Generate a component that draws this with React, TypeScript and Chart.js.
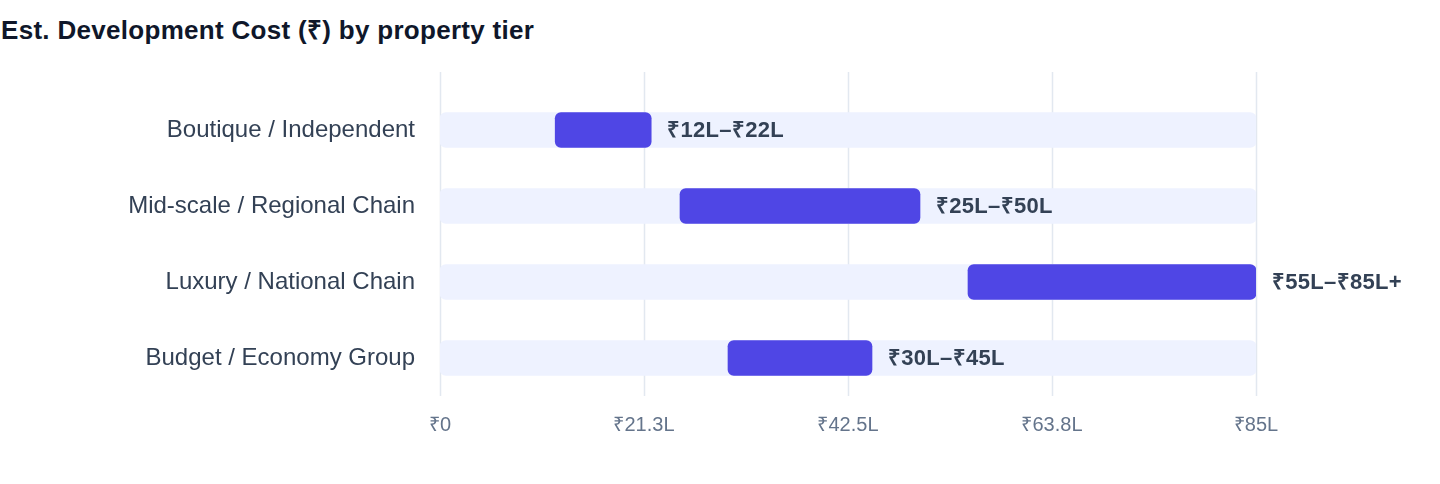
import React, { useEffect, useRef } from 'react';
import Chart from 'chart.js/auto';

const tiers = [
    'Boutique / Independent',
    'Mid-scale / Regional Chain',
    'Luxury / National Chain',
    'Budget / Economy Group',
];
const lowValues = [12, 25, 55, 30];
const highValues = [22, 50, 85, 45];
const rangeLabels = ['₹12L–₹22L', '₹25L–₹50L', '₹55L–₹85L+', '₹30L–₹45L'];
const axisMax = 85;
const tickValues = [0, 21.25, 42.5, 63.75, 85];
const tickLabels = ['₹0', '₹21.3L', '₹42.5L', '₹63.8L', '₹85L'];

const FONT = '"Liberation Sans", Arial, sans-serif';

const App: React.FC = () => {
    const canvasRef = useRef<HTMLCanvasElement>(null);
    const chartRef = useRef<Chart>();

    useEffect(() => {
        document.body.style.margin = '0';
        if (!canvasRef.current) return;

        // grid lines that reach a bit above the plot area
        const gridPlugin = {
            id: 'tallGrid',
            beforeDatasetsDraw: (chart: any) => {
                const { ctx, chartArea, scales } = chart;
                ctx.save();
                ctx.strokeStyle = '#E2E8F0';
                ctx.lineWidth = 1.5;
                tickValues.forEach(v => {
                    const x = Math.round(scales.x.getPixelForValue(v)) + 0.5;
                    ctx.beginPath();
                    ctx.moveTo(x, chartArea.top - 20);
                    ctx.lineTo(x, chartArea.bottom);
                    ctx.stroke();
                });
                ctx.restore();
            },
        };

        // range text at the end of each bar
        const rangeLabelPlugin = {
            id: 'rangeLabels',
            afterDatasetsDraw: (chart: any) => {
                const { ctx } = chart;
                const meta = chart.getDatasetMeta(0);
                ctx.save();
                ctx.font = `bold 22px ${FONT}`;
                (ctx as any).letterSpacing = '0.3px';
                ctx.fillStyle = '#334155';
                ctx.textAlign = 'left';
                ctx.textBaseline = 'middle';
                meta.data.forEach((bar: any, i: number) => {
                    ctx.fillText(rangeLabels[i], bar.x + 16, bar.y + 1);
                });
                ctx.restore();
            },
        };

        chartRef.current = new Chart(canvasRef.current, {
            type: 'bar',
            data: {
                labels: tiers,
                datasets: [
                    {
                        label: 'Cost range',
                        data: lowValues.map((lo, i) => [lo, highValues[i]]) as any,
                        backgroundColor: '#4F46E5',
                        borderRadius: 6,
                        borderSkipped: false,
                        barThickness: 35,
                        grouped: false,
                    },
                    {
                        label: 'Track',
                        data: tiers.map(() => [0, axisMax]) as any,
                        backgroundColor: '#EEF2FF',
                        borderRadius: 6,
                        borderSkipped: false,
                        barThickness: 35,
                        grouped: false,
                    },
                ],
            },
            options: {
                indexAxis: 'y',
                animation: false,
                responsive: true,
                maintainAspectRatio: false,
                layout: { padding: { top: 42, right: 184, bottom: 0, left: 0 } },
                plugins: {
                    legend: { display: false },
                    tooltip: { enabled: false },
                },
                scales: {
                    x: {
                        min: 0,
                        max: axisMax,
                        grid: { display: false, drawTicks: false },
                        border: { display: false },
                        afterBuildTicks: (scale: any) => {
                            scale.ticks = tickValues.map(v => ({ value: v }));
                        },
                        afterFit: (scale: any) => {
                            scale.height = 88;
                        },
                        ticks: {
                            padding: 17,
                            color: '#64748B',
                            font: { family: FONT, size: 20 },
                            maxRotation: 0,
                            callback: (value: any) => {
                                const idx = tickValues.indexOf(Number(value));
                                return idx >= 0 ? tickLabels[idx] : '';
                            },
                        },
                    },
                    y: {
                        grid: { display: false, drawTicks: false },
                        border: { display: false },
                        afterFit: (scale: any) => {
                            scale.width = 440;
                        },
                        ticks: {
                            padding: 25,
                            color: '#334155',
                            font: { family: FONT, size: 24 },
                        },
                    },
                },
            },
            plugins: [gridPlugin, rangeLabelPlugin],
        });

        return () => {
            if (chartRef.current) {
                chartRef.current.destroy();
            }
        };
    }, []);

    return (
        <div style={{ width: '1440px', height: '484px', background: '#fff', fontFamily: FONT }}>
            <div
                style={{
                    height: '50px',
                    boxSizing: 'border-box',
                    paddingTop: '16px',
                    paddingLeft: '1px',
                    fontSize: '26px',
                    fontWeight: 700,
                    letterSpacing: '0.3px',
                    color: '#0F172A',
                    lineHeight: '28px',
                }}
            >
                Est. Development Cost (₹) by property tier
            </div>
            <div style={{ position: 'relative', height: '434px', width: '1440px' }}>
                <canvas ref={canvasRef} />
            </div>
        </div>
    );
};

export default App;
